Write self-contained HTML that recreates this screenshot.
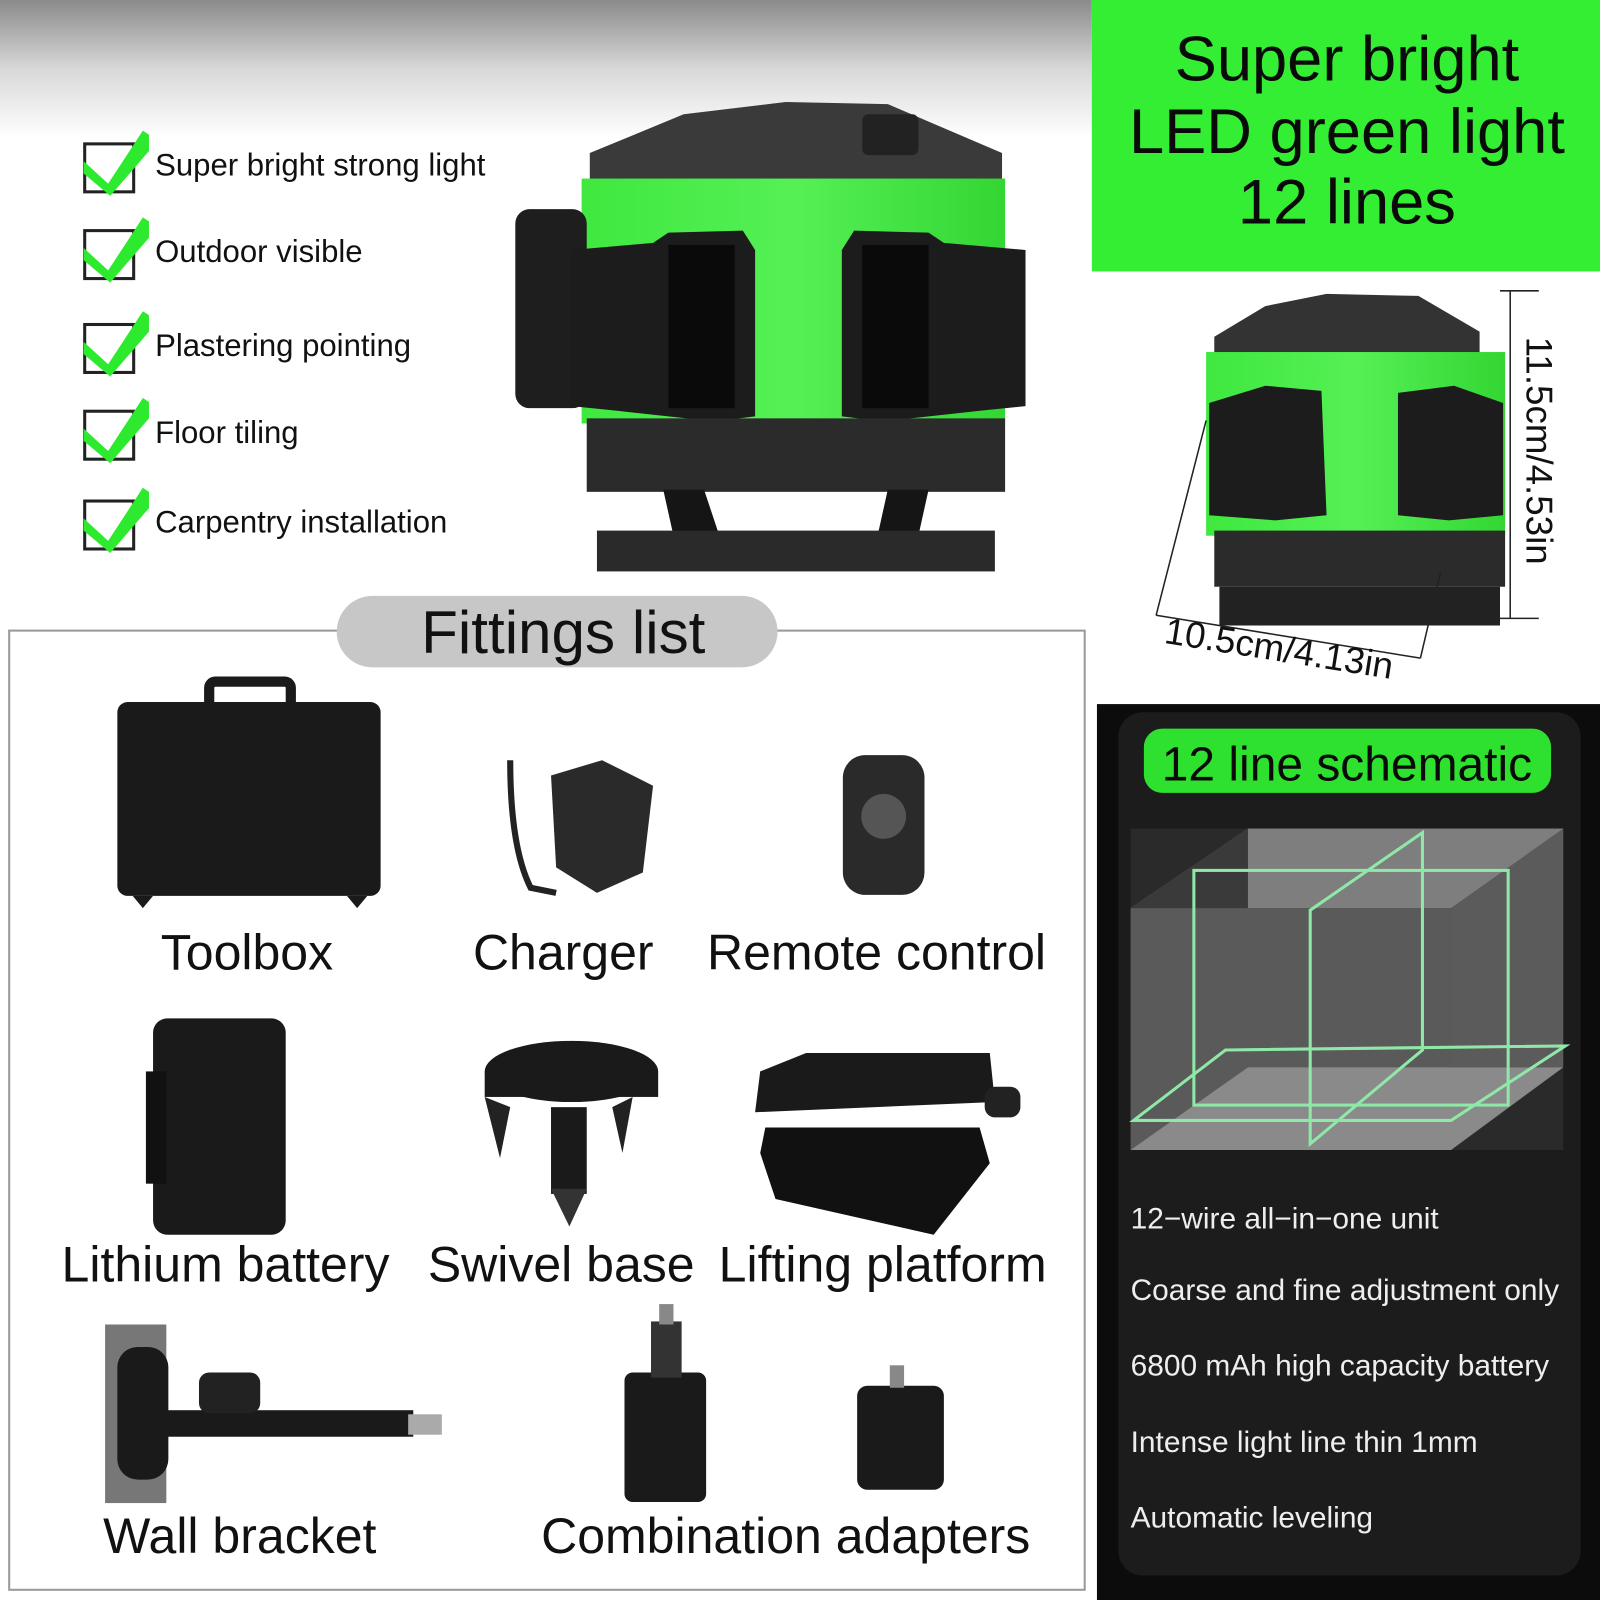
<!DOCTYPE html>
<html><head><meta charset="utf-8"><style>
html,body{margin:0;padding:0;background:#fff;}
svg{display:block;}
text{font-family:"Liberation Sans",Arial,sans-serif;}
</style></head><body>
<svg width="1600" height="1600" viewBox="0 0 1568 1568" xmlns="http://www.w3.org/2000/svg">
<defs>
<linearGradient id="tg" x1="0" y1="0" x2="0" y2="1">
<stop offset="0" stop-color="#8a8a8a"/><stop offset="0.5" stop-color="#d8d8d8"/><stop offset="1" stop-color="#ffffff"/>
</linearGradient>
<linearGradient id="gb" x1="0" y1="0" x2="1" y2="0">
<stop offset="0" stop-color="#3fe83f"/><stop offset="0.5" stop-color="#55f055"/><stop offset="1" stop-color="#33d633"/>
</linearGradient>
</defs>
<rect width="1568" height="1568" fill="#fff"/>
<rect x="0" y="0" width="1070" height="135" fill="url(#tg)"/>

<!-- checklist -->
<g font-size="30.5" fill="#111">
<g><rect x="83" y="141" width="48" height="47" fill="#fff" stroke="#222" stroke-width="3"/><path d="M82 158 L106 180 L140 128 L146 132 L146 148 L108 192 L82 170Z" fill="#2eea2e"/><text x="152" y="172">Super bright strong light</text></g>
<g transform="translate(0,85)"><rect x="83" y="141" width="48" height="47" fill="#fff" stroke="#222" stroke-width="3"/><path d="M82 158 L106 180 L140 128 L146 132 L146 148 L108 192 L82 170Z" fill="#2eea2e"/><text x="152" y="172">Outdoor visible</text></g>
<g transform="translate(0,177)"><rect x="83" y="141" width="48" height="47" fill="#fff" stroke="#222" stroke-width="3"/><path d="M82 158 L106 180 L140 128 L146 132 L146 148 L108 192 L82 170Z" fill="#2eea2e"/><text x="152" y="172">Plastering pointing</text></g>
<g transform="translate(0,262)"><rect x="83" y="141" width="48" height="47" fill="#fff" stroke="#222" stroke-width="3"/><path d="M82 158 L106 180 L140 128 L146 132 L146 148 L108 192 L82 170Z" fill="#2eea2e"/><text x="152" y="172">Floor tiling</text></g>
<g transform="translate(0,350)"><rect x="83" y="141" width="48" height="47" fill="#fff" stroke="#222" stroke-width="3"/><path d="M82 158 L106 180 L140 128 L146 132 L146 148 L108 192 L82 170Z" fill="#2eea2e"/><text x="152" y="172">Carpentry installation</text></g>
</g>

<!-- main laser -->
<polygon points="578,150 670,112 770,100 870,102 982,150 982,200 578,200" fill="#3a3a3a"/>
<rect x="845" y="112" width="55" height="40" rx="6" fill="#222"/>
<rect x="570" y="175" width="415" height="240" fill="url(#gb)"/>
<rect x="505" y="205" width="70" height="195" rx="14" fill="#1e1e1e"/>
<polygon points="560,245 640,238 655,228 728,226 740,245 740,408 700,413 600,402 560,398" fill="#1c1c1c"/>
<rect x="655" y="240" width="65" height="160" fill="#0a0a0a"/>
<polygon points="1005,245 925,238 910,228 837,226 825,245 825,408 865,413 965,402 1005,398" fill="#1c1c1c"/>
<rect x="845" y="240" width="65" height="160" fill="#0a0a0a"/>
<rect x="575" y="410" width="410" height="72" fill="#2b2b2b"/>
<polygon points="650,480 690,480 705,525 660,525" fill="#151515"/>
<polygon points="870,480 910,480 900,525 860,525" fill="#151515"/>
<rect x="585" y="520" width="390" height="40" fill="#2a2a2a"/>

<!-- green header -->
<rect x="1070" y="0" width="498" height="266" fill="#33ee33"/>
<g font-size="62" fill="#0a0a0a" text-anchor="middle">
<text x="1320" y="79">Super bright</text>
<text x="1320" y="150">LED green light</text>
<text x="1320" y="219">12 lines</text>
</g>

<!-- small laser -->
<polygon points="1190,330 1240,300 1300,288 1390,290 1450,325 1450,350 1190,350" fill="#333"/>
<rect x="1182" y="345" width="293" height="180" fill="url(#gb)"/>
<polygon points="1185,395 1240,378 1295,383 1300,505 1250,510 1185,505" fill="#1c1c1c"/>
<polygon points="1473,395 1425,378 1370,385 1370,505 1420,510 1473,505" fill="#1c1c1c"/>
<rect x="1190" y="520" width="285" height="55" fill="#2b2b2b"/>
<rect x="1195" y="575" width="275" height="38" fill="#222"/>
<g stroke="#222" stroke-width="1.5" fill="none">
<line x1="1480" y1="285" x2="1480" y2="606"/><line x1="1470" y1="285" x2="1508" y2="285"/><line x1="1470" y1="606" x2="1508" y2="606"/>
<line x1="1182" y1="412" x2="1133" y2="603"/><line x1="1133" y1="603" x2="1392" y2="645"/><line x1="1392" y1="645" x2="1412" y2="560"/>
</g>
<text x="0" y="0" font-size="36" fill="#111" transform="translate(1496,330) rotate(90)">11.5cm/4.53in</text>
<text x="0" y="0" font-size="36" fill="#111" transform="translate(1140,630) rotate(9)">10.5cm/4.13in</text>

<!-- fittings frame -->
<rect x="9" y="618" width="1054" height="940" fill="none" stroke="#999" stroke-width="2"/>
<rect x="330" y="584" width="432" height="70" rx="35" fill="#c7c7c7"/>
<text x="552" y="640" font-size="59" fill="#111" text-anchor="middle">Fittings list</text>

<!-- items -->
<rect x="115" y="688" width="258" height="190" rx="10" fill="#1a1a1a"/>
<rect x="205" y="668" width="80" height="26" rx="6" fill="none" stroke="#1a1a1a" stroke-width="10"/>
<polygon points="130,878 140,890 150,878" fill="#1a1a1a"/><polygon points="340,878 350,890 360,878" fill="#1a1a1a"/>
<path d="M500 745 Q500 830 520 870 L545 875" stroke="#222" stroke-width="6" fill="none"/>
<polygon points="540,760 590,745 640,770 630,855 585,875 545,850" fill="#2a2a2a"/>
<rect x="826" y="740" width="80" height="137" rx="22" fill="#2a2a2a"/>
<circle cx="866" cy="800" r="22" fill="#555"/>
<rect x="150" y="998" width="130" height="212" rx="14" fill="#1a1a1a"/>
<rect x="143" y="1050" width="20" height="110" fill="#111"/>
<ellipse cx="560" cy="1050" rx="85" ry="30" fill="#1a1a1a"/>
<rect x="475" y="1050" width="170" height="25" fill="#1a1a1a"/>
<polygon points="475,1075 500,1085 490,1135" fill="#222"/><polygon points="620,1075 600,1085 610,1130" fill="#222"/>
<rect x="540" y="1085" width="35" height="85" fill="#1a1a1a"/><polygon points="540,1165 575,1165 558,1202" fill="#333"/>
<polygon points="745,1050 790,1032 970,1032 975,1080 740,1090" fill="#1a1a1a"/>
<polygon points="750,1105 960,1105 970,1140 915,1210 760,1175 745,1130" fill="#111"/>
<rect x="965" y="1065" width="35" height="30" rx="10" fill="#222"/>
<rect x="103" y="1298" width="60" height="175" fill="#777"/>
<rect x="115" y="1320" width="50" height="130" rx="20" fill="#1a1a1a"/>
<rect x="145" y="1382" width="260" height="26" fill="#1a1a1a"/>
<rect x="195" y="1345" width="60" height="40" rx="10" fill="#222"/>
<rect x="400" y="1386" width="33" height="20" fill="#aaa"/>
<rect x="612" y="1345" width="80" height="127" rx="8" fill="#1a1a1a"/>
<rect x="638" y="1295" width="30" height="55" fill="#333"/><rect x="646" y="1278" width="14" height="20" fill="#888"/>
<rect x="840" y="1358" width="85" height="102" rx="10" fill="#1a1a1a"/><rect x="872" y="1338" width="14" height="22" fill="#888"/>

<g font-size="49" fill="#111" text-anchor="middle">
<text x="242" y="950">Toolbox</text>
<text x="552" y="950">Charger</text>
<text x="859" y="950">Remote control</text>
<text x="221" y="1256">Lithium battery</text>
<text x="550" y="1256">Swivel base</text>
<text x="865" y="1256">Lifting platform</text>
<text x="235" y="1522">Wall bracket</text>
<text x="770" y="1522">Combination adapters</text>
</g>

<!-- dark panel -->
<rect x="1075" y="690" width="493" height="878" fill="#0c0c0c"/>
<rect x="1096" y="698" width="453" height="846" rx="24" fill="#1c1c1c"/>
<rect x="1121" y="714" width="399" height="63" rx="18" fill="#2fe12f"/>
<text x="1320" y="765" font-size="47" fill="#0a0a0a" text-anchor="middle">12 line schematic</text>
<!-- cube -->
<rect x="1108" y="812" width="424" height="315" fill="#2a2a2a"/>
<polygon points="1223,812 1532,812 1422,890 1108,890" fill="#8a8a8a"/>
<polygon points="1108,890 1223,812 1223,1046 1108,1127" fill="#3a3a3a"/>
<polygon points="1532,812 1532,1046 1422,1127 1422,890" fill="#333"/>
<rect x="1223" y="812" width="309" height="234" fill="#777" opacity="0.6"/>
<rect x="1108" y="890" width="314" height="237" fill="#5a5a5a"/>
<polygon points="1108,1127 1223,1046 1532,1046 1422,1127" fill="#8a8a8a"/>
<g stroke="#8fe8a8" stroke-width="3" fill="none">
<rect x="1170" y="853" width="308" height="230"/>
<polygon points="1394,816 1394,1029 1284,1121 1284,892"/>
<polygon points="1201,1029 1534,1025 1422,1098 1111,1098"/>
</g>
<g font-size="29.3" fill="#eee">
<text x="1108" y="1204">12−wire all−in−one unit</text>
<text x="1108" y="1274">Coarse and fine adjustment only</text>
<text x="1108" y="1348">6800 mAh high capacity battery</text>
<text x="1108" y="1423">Intense light line thin 1mm</text>
<text x="1108" y="1497">Automatic leveling</text>
</g>
</svg>
</body></html>
